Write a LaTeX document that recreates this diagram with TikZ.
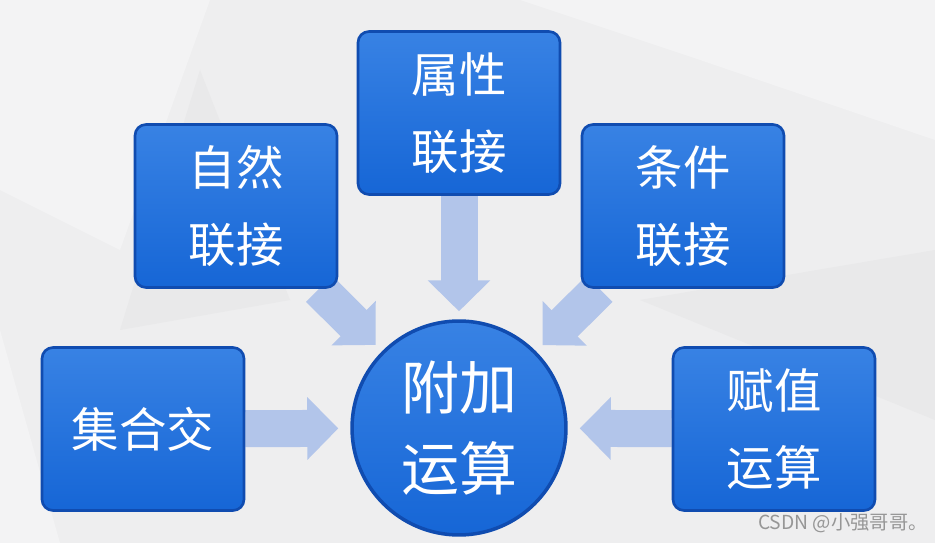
\documentclass[tikz,border=0pt]{standalone}
\usepackage{fontspec}
\setmainfont{Noto Sans CJK SC}
\usetikzlibrary{arrows.meta,backgrounds}
\definecolor{BgGray}{RGB}{238,238,239}
\definecolor{BgLight}{RGB}{243,243,244}
\definecolor{BgDark}{RGB}{233,233,234}
\definecolor{BoxTop}{RGB}{56,130,228}
\definecolor{BoxBottom}{RGB}{22,102,214}
\definecolor{BoxEdge}{RGB}{16,76,176}
\definecolor{ArrowBlue}{RGB}{178,197,234}
\definecolor{MarkGray}{RGB}{150,150,150}
\tikzset{
  opbox/.style={draw=BoxEdge, line width=1.5pt, top color=BoxTop, bottom color=BoxBottom,
    rounded corners=0.22cm, minimum width=4.04cm, minimum height=3.26cm, inner sep=0pt,
    align=center, text=white, font={\fontsize{27}{44}\selectfont}},
  opcircle/.style={circle, draw=BoxEdge, line width=2pt, top color=BoxTop, bottom color=BoxBottom,
    minimum size=4.28cm, inner sep=0pt, align=center, text=white, font={\fontsize{33}{46}\selectfont}},
  bigarrow/.style={draw=ArrowBlue, line width=0.74cm, -{Triangle[length=0.62cm, width=1.22cm]}},
  marktext/.style={text=MarkGray, font={\fontsize{11}{13}\selectfont}, inner sep=1pt},
}

\begin{document}
\begin{tikzpicture}[x=0.02cm, y=-0.02cm]
  \useasboundingbox (0,0) rectangle (935,543);
  % operations round the centre
  \node[opbox] (ziran) at (236,206) {自然\\联接};
  \node[opbox] (shuxing) at (459,113) {属性\\联接};
  \node[opbox] (tiaojian) at (683,206) {条件\\联接};
  \node[opbox] (jihe) at (143,429) {集合交};
  \node[opbox] (fuzhi) at (774,429) {赋值\\运算};
  \node[opcircle] (fujia) at (459,428) {附加\\运算};
  \node[marktext, anchor=east] (mark) at (930,523) {CSDN @小强哥哥。};
  \begin{scope}[on background layer]
    \fill[BgGray] (0,0) rectangle (935,543);
    \fill[BgLight] (0,0) -- (210,0) -- (120,250) -- (0,190) -- cycle;
    \fill[BgLight] (520,0) -- (935,0) -- (935,140) -- (700,60) -- cycle;
    \fill[BgDark] (200,70) -- (290,300) -- (120,330) -- cycle;
    \fill[BgDark] (640,300) -- (935,250) -- (935,420) -- cycle;
    \fill[BgLight] (0,330) -- (60,543) -- (0,543) -- cycle;
    \draw[bigarrow, shorten >=0.16cm] (shuxing) -- (fujia);
    \draw[bigarrow, shorten >=0.18cm] (ziran) -- (fujia);
    \draw[bigarrow, shorten >=0.18cm] (tiaojian) -- (fujia);
    \draw[bigarrow, shorten >=0.24cm] (jihe) -- (fujia);
    \draw[bigarrow, shorten >=0.24cm] (fuzhi) -- (fujia);
  \end{scope}
\end{tikzpicture}
\end{document}
